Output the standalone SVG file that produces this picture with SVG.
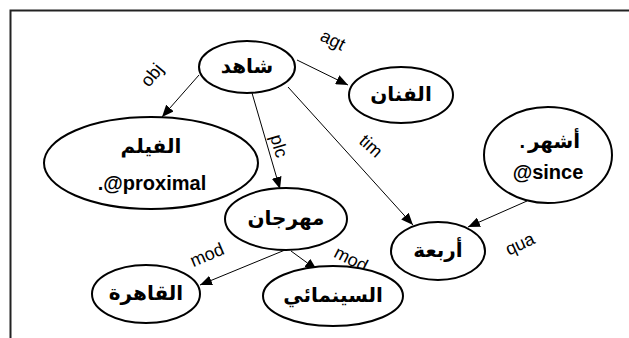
<svg xmlns="http://www.w3.org/2000/svg" width="629" height="338" viewBox="0 0 629 338">
<style>
.node ellipse{fill:#fff;stroke:#000;stroke-width:2}
.nt{font-family:"Liberation Sans","DejaVu Sans",Arial,sans-serif;font-weight:bold;font-size:20px;fill:#000;text-anchor:middle;dominant-baseline:central}
.lt{font-family:"Liberation Sans","DejaVu Sans",Arial,sans-serif;font-weight:bold;font-size:20px;fill:#000;text-anchor:middle;dominant-baseline:central}
.el{font-family:"Liberation Sans",Arial,sans-serif;font-size:18px;fill:#000;text-anchor:middle;dominant-baseline:central}
.edge{stroke:#000;stroke-width:1;fill:none;marker-end:url(#ah)}
</style>
<defs>
<marker id="ah" markerWidth="12" markerHeight="10" refX="12" refY="5" orient="auto" markerUnits="userSpaceOnUse">
<path d="M0,0 L12,5 L0,10 z" fill="#000"/>
</marker>
</defs>
<rect x="10.5" y="10.5" width="640" height="340" fill="none" stroke="#222" stroke-width="2"/>
<g id="connectors">
<line class="edge" x1="199" y1="75" x2="162" y2="117"/>
<line class="edge" x1="297" y1="60" x2="348" y2="85"/>
<line class="edge" x1="252" y1="93" x2="280" y2="189"/>
<line class="edge" x1="288" y1="87" x2="413" y2="225"/>
<line class="edge" x1="527" y1="201" x2="468" y2="227"/>
<line class="edge" x1="285" y1="250" x2="200" y2="285"/>
<line class="edge" x1="291" y1="251" x2="317" y2="270"/>
<text class="el" transform="translate(152,75) rotate(-50)">obj</text>
<text class="el" transform="translate(333,40) rotate(27)">agt</text>
<text class="el" transform="translate(279,146) rotate(74)">plc</text>
<text class="el" transform="translate(371,146) rotate(42)">tim</text>
<text class="el" transform="translate(520,244) rotate(-25)">qua</text>
<text class="el" transform="translate(207,255) rotate(-23)">mod</text>
<text class="el" transform="translate(351,259) rotate(27)">mod</text>
</g>
<g id="n-shahid" class="node"><ellipse cx="247" cy="67" rx="48" ry="26"/><text class="nt" x="247" y="66">شاهد</text></g>
<g id="n-alfannan" class="node"><ellipse cx="401" cy="95" rx="52" ry="28"/><text class="nt" x="401" y="94">الفنان</text></g>
<g id="n-alfilm" class="node"><ellipse cx="151" cy="163" rx="107" ry="46"/><text class="nt" x="151" y="146">الفيلم</text><text class="lt" x="152" y="183">.@proximal</text></g>
<g id="n-ashhur" class="node"><ellipse cx="548" cy="155" rx="64" ry="48"/><text class="nt" x="554" y="141">أشهر</text><text class="nt" x="525" y="141" style="text-anchor:end">.</text><text class="lt" x="548" y="172">@since</text></g>
<g id="n-mahrajan" class="node"><ellipse cx="286" cy="219" rx="61" ry="31"/><text class="nt" x="286" y="218">مهرجان</text></g>
<g id="n-arbaa" class="node"><ellipse cx="438" cy="251" rx="47" ry="29"/><text class="nt" x="438" y="250">أربعة</text></g>
<g id="n-alqahira" class="node"><ellipse cx="146" cy="294" rx="54" ry="29"/><text class="nt" x="146" y="293">القاهرة</text></g>
<g id="n-cinemai" class="node"><ellipse cx="333" cy="296" rx="70" ry="30"/><text class="nt" x="333" y="295">السينمائي</text></g>
</svg>
